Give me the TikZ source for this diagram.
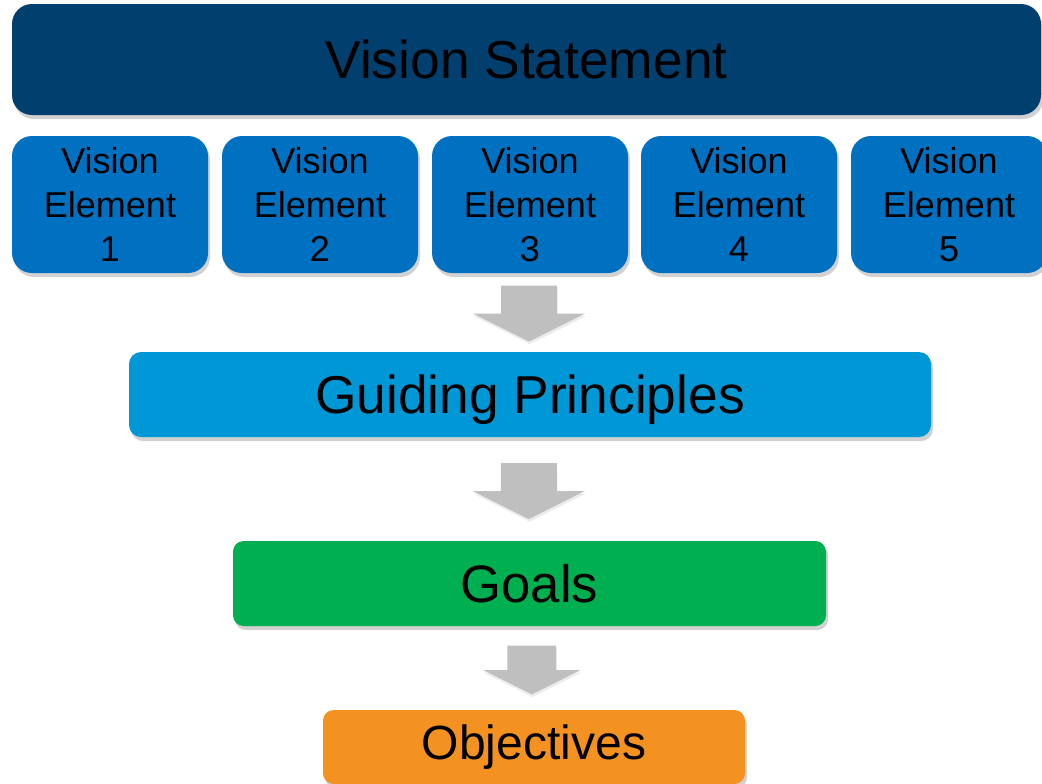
\documentclass[tikz,border=0pt]{standalone}
\usepackage{fontspec}
\setmainfont{Liberation Sans}
\usetikzlibrary{shadows,calc}

\definecolor{visionnavy}{RGB}{1,63,111}
\definecolor{elementblue}{RGB}{0,112,192}
\definecolor{guidingblue}{RGB}{0,151,214}
\definecolor{goalgreen}{RGB}{0,175,80}
\definecolor{objorange}{RGB}{243,145,33}
\definecolor{arrowgray}{RGB}{191,191,191}

\tikzset{
  softshadow/.style={drop shadow={shadow xshift=1.5pt, shadow yshift=-3pt, fill=black!40, opacity=.45}},
  block/.style={rounded corners=#1, inner sep=0pt, align=center, text=black, softshadow},
  downarrow/.pic={
    \fill[arrowgray, drop shadow={shadow xshift=0.5pt, shadow yshift=-2pt, fill=black!30, opacity=.25}]
      (-28,-28) -- (28,-28) -- (28,0) -- (56,0) -- (0,28) -- (-56,0) -- (-28,0) -- cycle;
  }
}

\begin{document}
\begin{tikzpicture}[x=0.75pt, y=-0.75pt]
  \path[use as bounding box, clip] (0,0) rectangle (1042,783);

  \node[block=15pt, fill=visionnavy, minimum width=771.75pt, minimum height=83.25pt,
        font=\fontsize{40}{48}\selectfont] (vision) at (526.5,59.5) {Vision Statement};

  \foreach \i/\x in {1/110, 2/320, 3/530, 4/739, 5/949}
    \node[block=15pt, fill=elementblue, minimum width=147pt, minimum height=102.75pt,
          font=\fontsize{27}{33}\selectfont] (el\i) at (\x,204.5) {Vision\\Element\\\i};

  \node[block=9pt, fill=guidingblue, minimum width=601.5pt, minimum height=63.75pt,
        text depth=0pt, font=\fontsize{40}{48}\selectfont] (guide) at (530,394.5) {Guiding Principles};

  \node[block=8pt, fill=goalgreen, minimum width=444.75pt, minimum height=63.75pt,
        font=\fontsize{39.5}{48}\selectfont] (goals) at (529.5,583.5) {Goals};

  \node[block=8pt, fill=objorange, minimum width=316.5pt, minimum height=55.5pt,
        font=\fontsize{36}{44}\selectfont] (obj) at (534,747) {Objectives};

  \pic at ($(el3.south)!0.5!(guide.north)+(-1,1)$) {downarrow};
  \pic at ($(guide.south)!0.5!(goals.north)+(-1,2)$) {downarrow};
  \pic[scale=0.87] at ($(goals.south)!0.5!(obj.north)+(0,2)$) {downarrow};
\end{tikzpicture}
\end{document}
